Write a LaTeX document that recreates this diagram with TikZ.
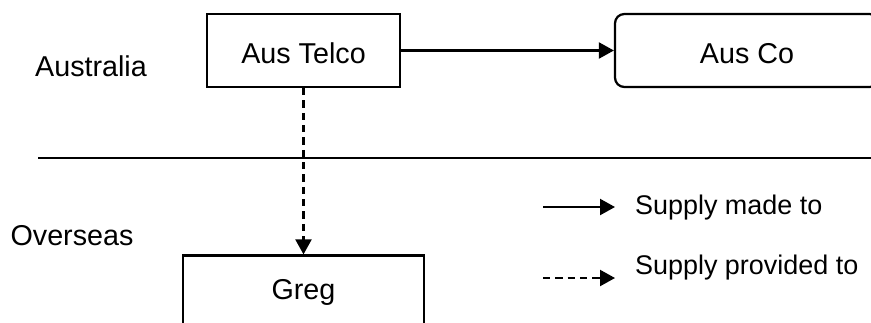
\documentclass[tikz,border=0pt]{standalone}
\usepackage{fontspec}
\setmainfont{Liberation Sans}
\usetikzlibrary{arrows.meta}

\tikzset{
    party/.style={rectangle, draw, line width=1.9pt, fill=white, font=\fontsize{24.5}{28}\selectfont},
    lowtext/.style={text height=7.5mm, text depth=0pt},
    region/.style={font=\fontsize{24.5}{28}\selectfont},
    keytext/.style={font=\fontsize{23}{27}\selectfont, anchor=west},
    supply/.style={line width=1.9pt, -{Triangle[length=4.5mm, width=4.8mm]}},
    provided/.style={supply, dash pattern=on 2.2mm off 1.5mm}
}

\begin{document}
\begin{tikzpicture}[x=0.03cm, y=-0.03cm]
    \useasboundingbox (0,0) rectangle (871,322);

    % Draw nodes
    \node[party, lowtext, minimum width=5.79cm, minimum height=2.19cm] (telco) at (303.5,50.5) {Aus Telco};
    \node[party, lowtext, rounded corners=8pt, minimum width=7.92cm, minimum height=2.19cm] (co) at (747,50.5) {Aus Co};
    \node[party, minimum width=7.23cm, minimum height=2.19cm] (greg) at (303.5,292) {Greg};

    % Regions
    \node[region] (aus) at (91,66) {Australia};
    \node[region] (over) at (72,236) {Overseas};
    \coordinate (borderL) at (38,158);
    \coordinate (borderR) at (871,158);
    \draw[line width=2pt] (borderL) -- (borderR);

    % Draw connections
    \draw[supply] (telco) -- (co);
    \draw[provided] (telco) -- (greg);

    % Legend
    \coordinate (madeA) at (543,207);
    \coordinate (madeB) at (615,207);
    \coordinate (provA) at (543,278);
    \coordinate (provB) at (615,278);
    \draw[supply] (madeA) -- (madeB);
    \draw[provided] (provA) -- (provB);
    \node[keytext] (madeT) at (631,208) {Supply made to};
    \node[keytext] (provT) at (631,268) {Supply provided to};
\end{tikzpicture}
\end{document}
